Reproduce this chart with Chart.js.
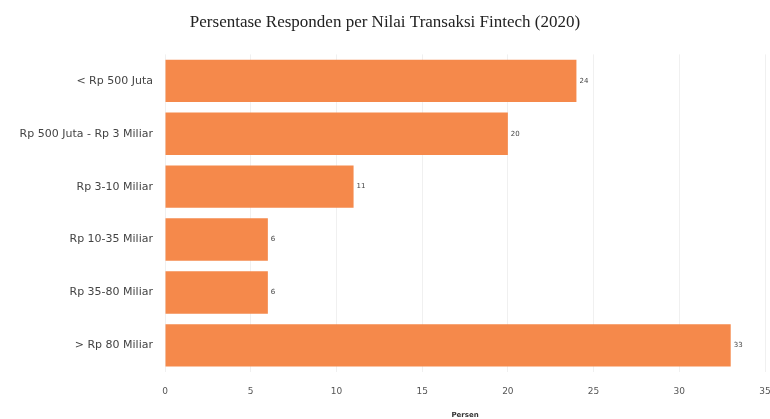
<!DOCTYPE html>
<html>
<head>
<meta charset="utf-8">
<script src="https://cdn.jsdelivr.net/npm/chart.js@4.4.0/dist/chart.umd.min.js"></script>
<style>
  html, body { margin: 0; padding: 0; background: #fff; }
  #wrap { width: 770px; height: 419px; }
</style>
</head>
<body>
<div id="wrap"><canvas id="chart"></canvas></div>
<script>
  const categories = ["< Rp 500 Juta", "Rp 500 Juta - Rp 3 Miliar", "Rp 3-10 Miliar", "Rp 10-35 Miliar", "Rp 35-80 Miliar", "> Rp 80 Miliar"];
  const persen = [24, 20, 11, 6, 6, 33];
  const xTicks = [0, 5, 10, 15, 20, 25, 30, 35];

  // labels at the end of each bar
  const barLabels = {
    id: 'barLabels',
    afterDatasetsDraw(chart) {
      const c = chart.ctx;
      const meta = chart.getDatasetMeta(0);
      c.save();
      c.font = '7px "DejaVu Sans"';
      c.fillStyle = '#444';
      c.textBaseline = 'middle';
      meta.data.forEach((bar, i) => {
        c.fillText(String(persen[i]), bar.x + 3, bar.y);
      });
      c.restore();
    }
  };

  new Chart(document.getElementById('chart'), {
    type: 'bar',
    data: {
      labels: categories,
      datasets: [{
        label: 'Persen',
        data: persen,
        backgroundColor: '#f5894b',
        barPercentage: 0.9,
        categoryPercentage: 0.89
      }]
    },
    options: {
      indexAxis: 'y',
      responsive: true,
      maintainAspectRatio: false,
      animation: false,
      layout: { padding: { top: 4, right: 0, left: 0, bottom: 0 } },
      scales: {
        x: {
          min: 0,
          max: 35,
          afterBuildTicks: axis => { axis.ticks = xTicks.map(v => ({ value: v })); },
          afterFit: axis => { axis.paddingRight = 5; },
          grid: { color: '#f0f0f0', drawTicks: false },
          border: { display: false },
          ticks: { color: '#555', font: { family: 'DejaVu Sans', size: 9 }, padding: 14 },
          title: { display: true, text: 'Persen', color: '#333', font: { family: 'DejaVu Sans', size: 7, weight: 'bold' }, padding: { top: 0, bottom: 0 } }
        },
        y: {
          afterFit: axis => { axis.width = 165; },
          grid: { display: false },
          border: { display: false },
          ticks: { color: '#444', font: { family: 'DejaVu Sans', size: 11 }, padding: 4 }
        }
      },
      plugins: {
        legend: { display: false },
        tooltip: { enabled: false },
        title: {
          display: true,
          text: 'Persentase Responden per Nilai Transaksi Fintech (2020)',
          color: '#222',
          font: { family: 'Liberation Serif', size: 17, weight: 'normal' },
          padding: { top: 8, bottom: 22 }
        }
      }
    },
    plugins: [barLabels]
  });
</script>
</body>
</html>
